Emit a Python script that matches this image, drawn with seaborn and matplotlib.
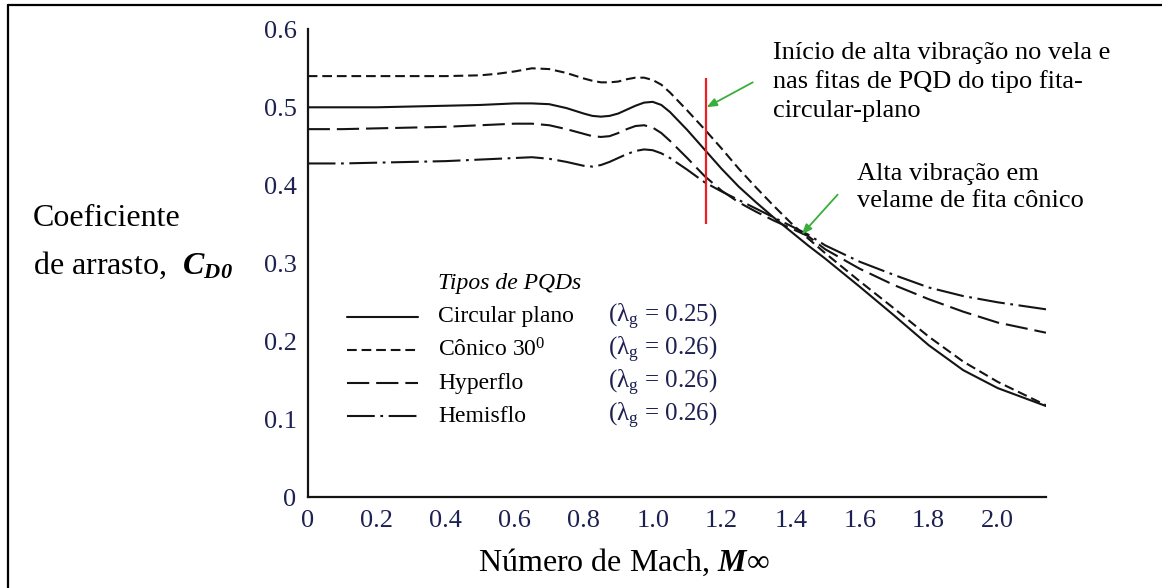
import numpy as np
import pandas as pd
import matplotlib
matplotlib.use("Agg")
import matplotlib.pyplot as plt
import seaborn as sns
from matplotlib.lines import Line2D

# ---------------- data ----------------
mach = [0.0, 0.1, 0.2, 0.3, 0.4, 0.5, 0.55, 0.6, 0.65, 0.7, 0.75, 0.8, 0.825, 0.85,
        0.875, 0.9, 0.925, 0.95, 0.975, 1.0, 1.025, 1.05, 1.1, 1.15, 1.2, 1.25, 1.3,
        1.35, 1.4, 1.45, 1.5, 1.6, 1.7, 1.8, 1.9, 2.0, 2.14]
circular_plano = [0.500, 0.500, 0.500, 0.501, 0.502, 0.503, 0.504, 0.505, 0.505, 0.504,
                  0.499, 0.492, 0.489, 0.488, 0.489, 0.492, 0.497, 0.502, 0.506, 0.507,
                  0.503, 0.494, 0.471, 0.446, 0.421, 0.398, 0.378, 0.359, 0.341, 0.323,
                  0.306, 0.270, 0.233, 0.195, 0.163, 0.140, 0.117]
conico_30 = [0.540, 0.540, 0.540, 0.540, 0.540, 0.541, 0.543, 0.546, 0.550, 0.549,
             0.544, 0.537, 0.534, 0.532, 0.532, 0.533, 0.536, 0.538, 0.538, 0.535,
             0.529, 0.519, 0.496, 0.472, 0.447, 0.421, 0.397, 0.374, 0.352, 0.332,
             0.313, 0.277, 0.242, 0.206, 0.174, 0.148, 0.118]
hyperflo = [0.472, 0.472, 0.473, 0.474, 0.475, 0.477, 0.478, 0.479, 0.479, 0.477,
            0.472, 0.466, 0.463, 0.462, 0.463, 0.467, 0.472, 0.476, 0.477, 0.474,
            0.467, 0.457, 0.435, 0.412, 0.393, 0.378, 0.366, 0.355, 0.345, 0.335,
            0.318, 0.293, 0.272, 0.254, 0.238, 0.224, 0.211]
hemisflo = [0.428, 0.428, 0.429, 0.430, 0.431, 0.433, 0.434, 0.435, 0.436, 0.434,
            0.430, 0.425, 0.424, 0.426, 0.430, 0.435, 0.440, 0.444, 0.446, 0.445,
            0.441, 0.435, 0.420, 0.404, 0.392, 0.381, 0.370, 0.359, 0.348, 0.337,
            0.323, 0.302, 0.285, 0.269, 0.258, 0.250, 0.241]

series_keys = ["circular", "conico", "hyperflo", "hemisflo"]
series_names = ["Circular plano", "Cônico 30$^{0}$", "Hyperflo", "Hemisflo"]
lambda_labels = [r"(λ$_{\mathrm{g}}$ = 0.25)", r"(λ$_{\mathrm{g}}$ = 0.26)",
                 r"(λ$_{\mathrm{g}}$ = 0.26)", r"(λ$_{\mathrm{g}}$ = 0.26)"]
x_ticks = [0.0, 0.2, 0.4, 0.6, 0.8, 1.0, 1.2, 1.4, 1.6, 1.8, 2.0]
x_tick_labels = ["0", "0.2", "0.4", "0.6", "0.8", "1.0", "1.2", "1.4", "1.6", "1.8", "2.0"]
y_ticks = [0.0, 0.1, 0.2, 0.3, 0.4, 0.5, 0.6]
y_tick_labels = ["0", "0.1", "0.2", "0.3", "0.4", "0.5", "0.6"]

# ---------------- style ----------------
sns.set_theme(style="white")
plt.rcParams['font.family'] = ['Liberation Serif', 'DejaVu Serif']
plt.rcParams['mathtext.fontset'] = 'custom'
plt.rcParams['mathtext.rm'] = 'Liberation Serif'
plt.rcParams['mathtext.it'] = 'Liberation Serif:italic'
plt.rcParams['mathtext.bf'] = 'Liberation Serif:bold'
plt.rcParams['mathtext.bfit'] = 'Liberation Serif:bold:italic'
plt.rcParams['lines.scale_dashes'] = False

LINE_COL = '#141414'
TICK_COL = '#1c2150'
dash_styles = {
    "circular": "",
    "conico": (7, 3.5),
    "hyperflo": (16, 5),
    "hemisflo": (20, 4, 2, 4),
}

df = pd.concat([
    pd.DataFrame({"mach": mach, "cd": vals, "tipo": key})
    for key, vals in zip(series_keys, [circular_plano, conico_30, hyperflo, hemisflo])
], ignore_index=True)

fig = plt.figure(figsize=(11.62, 5.88), dpi=100)
fig.patch.set_facecolor('white')
ax = fig.add_axes([307.7 / 1162, 1 - 497.3 / 588, (1046 - 307.7) / 1162, (497.3 - 29.3) / 588])
ax.set_facecolor('white')

sns.lineplot(data=df, x="mach", y="cd", hue="tipo", style="tipo",
             palette={k: LINE_COL for k in series_keys}, dashes=dash_styles,
             hue_order=series_keys, style_order=series_keys,
             estimator=None, sort=False, legend=False, lw=1.5, ax=ax)

ax.set_xlim(0, 2.14)
ax.set_ylim(0, 0.6)
ax.set_xticks(x_ticks)
ax.set_xticklabels(x_tick_labels)
ax.set_yticks(y_ticks)
ax.set_yticklabels(y_tick_labels)
ax.set_xlabel("")
ax.set_ylabel("")
for s in ["top", "right"]:
    ax.spines[s].set_visible(False)
for s in ["left", "bottom"]:
    ax.spines[s].set_color(LINE_COL)
    ax.spines[s].set_linewidth(1.6)
ax.tick_params(axis='both', direction='in', length=13, width=1.3, color=LINE_COL,
               labelsize=19, labelcolor=TICK_COL)
ax.tick_params(axis='x', pad=9)
ax.tick_params(axis='y', pad=8)
ax.grid(False)

# ---------------- legend block (manual, inside axes) ----------------
legend_rows_y = [0.2312, 0.1888, 0.1465, 0.1042]
for key, name, lam, yy in zip(series_keys, series_names, lambda_labels, legend_rows_y):
    ln = Line2D([0.115, 0.32], [yy, yy], color=LINE_COL, lw=1.5)
    if dash_styles[key]:
        ln.set_dashes(dash_styles[key])
    ax.add_line(ln)
    ax.text(0.378, yy, name, fontsize=17, va='center', ha='left', color='black')
    ax.text(0.871, yy, lam, fontsize=18, va='center', ha='left', color=TICK_COL)
ax.text(0.378, 0.2747, "Tipos de PQDs", fontsize=17, style='italic', va='center',
        ha='left', color='black')

# ---------------- annotations ----------------
ax.vlines(1.155, 0.35, 0.538, color='#f01e1e', lw=1.6)
ax.annotate("", xy=(1.156, 0.500), xytext=(1.29, 0.532),
            arrowprops=dict(arrowstyle='-|>,head_length=0.5,head_width=0.2',
                            color='#3aae3a', lw=1.3, shrinkA=0, shrinkB=0))
ax.annotate("", xy=(1.432, 0.337), xytext=(1.536, 0.388),
            arrowprops=dict(arrowstyle='-|>,head_length=0.5,head_width=0.2',
                            color='#3aae3a', lw=1.3, shrinkA=0, shrinkB=0))

fig.text(773 / 1162, 1 - 42 / 588,
         "Início de alta vibração no vela e\nnas fitas de PQD do tipo fita-\ncircular-plano",
         fontsize=19, va='top', ha='left', color='black', linespacing=1.36)
fig.text(857 / 1162, 1 - 163 / 588,
         "Alta vibração em\nvelame de fita cônico",
         fontsize=19, va='top', ha='left', color='black', linespacing=1.28)

# axis titles
fig.text(33 / 1162, 1 - 218 / 588, "Coeficiente", fontsize=23, va='center', ha='left',
         color='black')
fig.text(33 / 1162, 1 - 265 / 588,
         r"de arrasto,  $\mathbfit{C}_{\mathbfit{D0}}$", fontsize=23, va='center',
         ha='left', color='black')
fig.text(624 / 1162, 1 - 562 / 588, r"Número de Mach, $\mathbfit{M}$∞", fontsize=23,
         va='center', ha='center', color='black')

# frame around the figure (left and top edges visible)
fig.add_artist(Line2D([8 / 1162, 8 / 1162], [0, 1 - 5 / 588], transform=fig.transFigure,
                      color='black', lw=1.6))
fig.add_artist(Line2D([8 / 1162, 1], [1 - 5 / 588, 1 - 5 / 588], transform=fig.transFigure,
                      color='black', lw=1.6))

fig.savefig("out.png", dpi=100, facecolor='white')
